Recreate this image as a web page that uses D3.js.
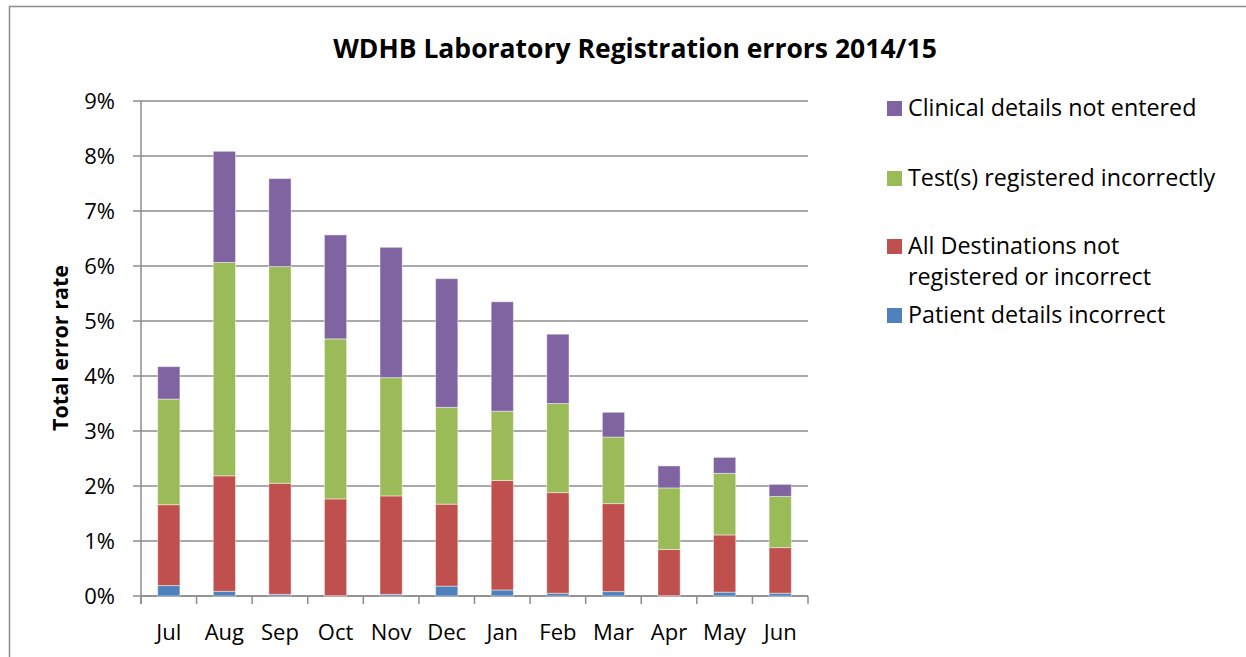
<!DOCTYPE html>
<html>
<head>
<meta charset="utf-8">
<script src="https://cdn.jsdelivr.net/npm/d3@7"></script>
<style>
  body { margin: 0; background: #fff; }
  text { font-family: "Open Sans", "Noto Sans", sans-serif; fill: #000; }
</style>
</head>
<body>
<div id="chart"></div>
<script>
// Months of the 2014/15 year
const months = ["Jul", "Aug", "Sep", "Oct", "Nov", "Dec", "Jan", "Feb", "Mar", "Apr", "May", "Jun"];

// Error rates (%) per category
const patientDetails   = [0.19, 0.085, 0.03, 0.005, 0.03, 0.18, 0.11, 0.05, 0.08, 0.005, 0.07, 0.05];
const allDestinations  = [1.47, 2.10, 2.02, 1.76, 1.79, 1.49, 1.99, 1.83, 1.60, 0.84, 1.04, 0.83];
const testsRegistered  = [1.92, 3.88, 3.94, 2.91, 2.15, 1.76, 1.26, 1.62, 1.21, 1.12, 1.12, 0.93];
const clinicalDetails  = [0.59, 2.02, 1.60, 1.89, 2.37, 2.34, 1.99, 1.26, 0.45, 0.40, 0.29, 0.22];

const seriesNames = ["Patient details incorrect", "All Destinations not registered or incorrect",
  "Test(s) registered incorrectly", "Clinical details not entered"];
const seriesColors = ["#4F81BD", "#C0504D", "#9BBB59", "#8064A2"];
const yTicks = [0, 1, 2, 3, 4, 5, 6, 7, 8, 9];

const W = 1246, H = 657;
const plot = {left: 141, right: 808, top: 101, bottom: 596};

const rows = months.map((m, i) => ({
  month: m,
  s0: patientDetails[i], s1: allDestinations[i], s2: testsRegistered[i], s3: clinicalDetails[i]
}));
const keys = ["s0", "s1", "s2", "s3"];
const stacked = d3.stack().keys(keys)(rows);

const svg = d3.select("#chart").append("svg")
  .attr("width", W).attr("height", H);

// chart border (clipped like the reference)
svg.append("path")
  .attr("d", "M9.5," + H + " V6.5 H" + W)
  .attr("fill", "none").attr("stroke", "#8c8c8c").attr("stroke-width", 1.5);

const x = d3.scaleBand().domain(months).range([plot.left, plot.right]).paddingInner(0.6).paddingOuter(0.3);
const xOuter = d3.scaleBand().domain(months).range([plot.left, plot.right]);
const y = d3.scaleLinear().domain([0, 9]).range([plot.bottom, plot.top]);

// gridlines
svg.append("g").selectAll("line").data(yTicks).enter().append("line")
  .attr("x1", plot.left - 8).attr("x2", plot.right)
  .attr("y1", d => y(d)).attr("y2", d => y(d))
  .attr("stroke", "#8c8c8c").attr("stroke-width", 1.5);

// y axis labels
const yAxis = d3.axisLeft(y).tickValues(yTicks).tickFormat(d => d + "%").tickSize(0).tickPadding(26);
const gy = svg.append("g").attr("transform", "translate(" + plot.left + ",0)").call(yAxis);
gy.select(".domain").remove();
gy.selectAll("text").style("font-size", "22px").attr("font-family", null);

// x axis with ticks between categories
svg.append("line")
  .attr("x1", plot.left).attr("x2", plot.right)
  .attr("y1", plot.bottom).attr("y2", plot.bottom)
  .attr("stroke", "#8c8c8c").attr("stroke-width", 1.5);
const boundaries = months.map(m => xOuter(m)).concat([plot.right]);
svg.append("g").selectAll("line").data(boundaries).enter().append("line")
  .attr("x1", d => d).attr("x2", d => d)
  .attr("y1", plot.bottom).attr("y2", plot.bottom + 8)
  .attr("stroke", "#8c8c8c").attr("stroke-width", 1.5);
svg.append("g").selectAll("text").data(months).enter().append("text")
  .attr("x", d => xOuter(d) + xOuter.bandwidth() / 2)
  .attr("y", 640)
  .attr("text-anchor", "middle")
  .style("font-size", "22px")
  .text(d => d);

// y axis line
svg.append("line")
  .attr("x1", plot.left).attr("x2", plot.left)
  .attr("y1", plot.top).attr("y2", plot.bottom + 8)
  .attr("stroke", "#8c8c8c").attr("stroke-width", 1.5);

// bars
svg.append("g").selectAll("g").data(stacked).enter().append("g")
  .attr("fill", (d, i) => seriesColors[i])
  .selectAll("rect").data(d => d).enter().append("rect")
  .attr("x", d => x(d.data.month))
  .attr("width", x.bandwidth())
  .attr("y", d => y(d[1]))
  .attr("height", d => y(d[0]) - y(d[1]))
  .attr("stroke", "rgba(255,255,255,0.45)")
  .attr("stroke-width", 1);

// title
svg.append("text")
  .attr("x", 635).attr("y", 58)
  .attr("text-anchor", "middle")
  .style("font-size", "26.5px").style("font-weight", "bold")
  .text("WDHB Laboratory Registration errors 2014/15");

// y axis title
svg.append("text")
  .attr("transform", "translate(68,348) rotate(-90)")
  .attr("text-anchor", "middle")
  .style("font-size", "21.5px").style("font-weight", "bold")
  .text("Total error rate");

// legend (reverse order, top item is last series)
const legendRows = [
  {i: 3, lines: ["Clinical details not entered"], y: 108},
  {i: 2, lines: ["Test(s) registered incorrectly"], y: 178},
  {i: 1, lines: ["All Destinations not", "registered or incorrect"], y: 246},
  {i: 0, lines: ["Patient details incorrect"], y: 315}
];
const lg = svg.append("g").selectAll("g").data(legendRows).enter().append("g");
lg.append("rect")
  .attr("x", 887).attr("y", d => d.y - 7).attr("width", 15).attr("height", 15)
  .attr("fill", d => seriesColors[d.i]);
lg.append("text")
  .attr("x", 908).attr("y", d => d.y + 8)
  .style("font-size", "23.3px")
  .selectAll("tspan").data(d => d.lines).enter().append("tspan")
  .attr("x", 908).attr("dy", (d, j) => j === 0 ? 0 : 31)
  .text(d => d);
</script>
</body>
</html>
